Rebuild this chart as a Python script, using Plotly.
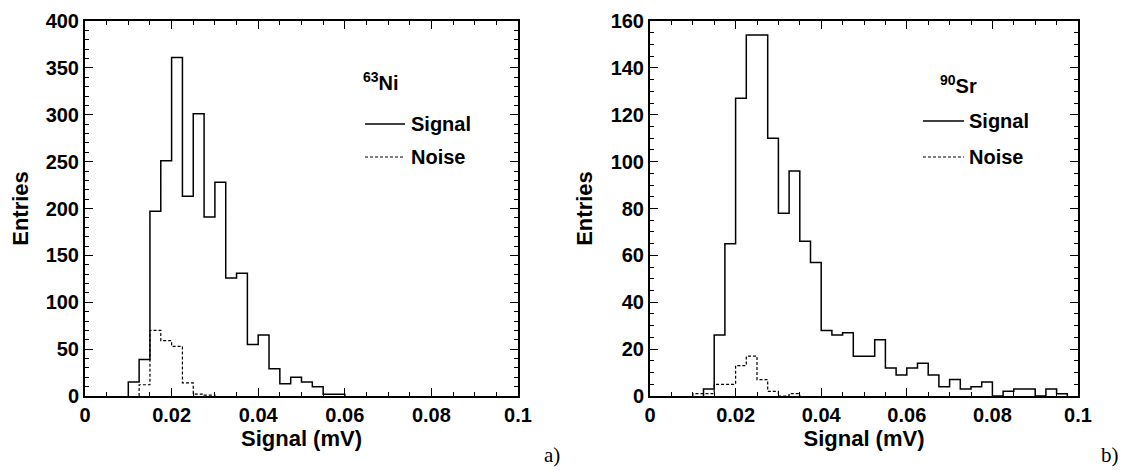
import plotly.graph_objects as go

# ---------------- data ----------------
bin_width = 0.0025

# panel a) 63Ni
ni_signal_start = 0.01
ni_signal = [15, 39, 197, 251, 361, 213, 301, 191, 228, 126, 131, 55, 65, 29, 13, 20, 15, 10, 2, 2]
ni_noise_start = 0.0125
ni_noise = [12, 70, 59, 53, 14, 2, 1]

# panel b) 90Sr
sr_signal_start = 0.0125
sr_signal = [3, 26, 65, 127, 154, 154, 110, 78, 96, 66, 57, 28, 26, 27, 17, 17, 24, 12, 9,
             12, 14, 9, 4, 7, 3, 4, 6, 0, 2, 3, 3, 0, 3, 1]
sr_noise_start = 0.01
sr_noise = [1, 1, 5, 5, 13, 17, 7, 2, 0, 1]

x_ticks = [0, 0.02, 0.04, 0.06, 0.08, 0.1]
x_tick_text = ["0", "0.02", "0.04", "0.06", "0.08", "0.1"]

W, H = 1126, 470
ML, MR, MT, MB = 77, 56, 13, 82          # outer plot area in pixels
IW, IH = W - ML - MR, H - MT - MB
FONT = "Liberation Sans"


def step_xy(start, counts):
    edges = [start + i * bin_width for i in range(len(counts) + 1)]
    xs = [edges[0]] + edges[:-1] + [edges[-1]]
    ys = [0] + list(counts) + [0]
    return xs, ys


def px(x):
    return (x - ML) / IW


def py(y):
    return (H - MB - y) / IH


fig = go.Figure()

for xa, ya, s_start, s_vals, n_start, n_vals in [
    ("x", "y", ni_signal_start, ni_signal, ni_noise_start, ni_noise),
    ("x2", "y2", sr_signal_start, sr_signal, sr_noise_start, sr_noise),
]:
    xs, ys = step_xy(n_start, n_vals)
    fig.add_trace(go.Scatter(x=xs, y=ys, mode="lines", line_shape="hv",
                             line=dict(color="black", width=1.2, dash="3px,2px"),
                             xaxis=xa, yaxis=ya, showlegend=False, hoverinfo="skip"))
    xs, ys = step_xy(s_start, s_vals)
    fig.add_trace(go.Scatter(x=xs, y=ys, mode="lines", line_shape="hv",
                             line=dict(color="black", width=1.5),
                             xaxis=xa, yaxis=ya, showlegend=False, hoverinfo="skip"))

tick_font = dict(family=FONT, size=20, color="black", weight="bold")
title_font = dict(family=FONT, size=22, color="black", weight="bold")

common_axis = dict(showline=True, linewidth=2, linecolor="black", mirror="allticks",
                   ticks="inside", ticklen=8, tickwidth=1, tickcolor="black",
                   showgrid=False, zeroline=False, tickfont=tick_font, automargin=False)

xdef = dict(common_axis, range=[0, 0.1], tickvals=x_ticks, ticktext=x_tick_text,
            minor=dict(dtick=0.005, ticks="inside", ticklen=4, tickcolor="black", showgrid=False),
            title=dict(text="Signal (mV)", font=title_font, standoff=6))

fig.update_layout(
    template="none",
    width=W, height=H,
    margin=dict(l=ML, r=MR, t=MT, b=MB, pad=0),
    paper_bgcolor="white", plot_bgcolor="white",
    xaxis=dict(xdef, domain=[px(77), px(510)], anchor="y"),
    xaxis2=dict(xdef, domain=[px(642), px(1070)], anchor="y2"),
    yaxis=dict(common_axis, domain=[0, 1], range=[0, 400], dtick=50, anchor="x",
               minor=dict(dtick=10, ticks="inside", ticklen=4, tickcolor="black", showgrid=False),
               title=dict(text="Entries", font=title_font, standoff=12)),
    yaxis2=dict(common_axis, domain=[0, 1], range=[0, 160], dtick=20, anchor="x2",
                minor=dict(dtick=5, ticks="inside", ticklen=4, tickcolor="black", showgrid=False),
                title=dict(text="Entries", font=title_font, standoff=12)),
)

# legends (drawn as text + line samples)
leg_font = dict(family=FONT, size=20, color="black", weight="bold")
legends = [
    # (isotope text, iso_x, iso_y, line_x0, line_x1, sig_y, noise_y, text_x)
    ("<sup>63</sup>Ni", 353, 74, 357, 397, 116, 149, 401),
    ("<sup>90</sup>Sr", 930, 76, 915, 956, 113, 149, 959),
]
for iso, ix, iy, lx0, lx1, sy, ny, tx in legends:
    fig.add_annotation(x=px(ix), y=py(iy), xref="paper", yref="paper", text=iso,
                       showarrow=False, xanchor="left", yanchor="middle", font=leg_font)
    fig.add_shape(type="line", xref="paper", yref="paper", x0=px(lx0), x1=px(lx1),
                  y0=py(sy), y1=py(sy), line=dict(color="black", width=1.5))
    fig.add_shape(type="line", xref="paper", yref="paper", x0=px(lx0), x1=px(lx1),
                  y0=py(ny), y1=py(ny), line=dict(color="black", width=1.2, dash="3px,2px"))
    fig.add_annotation(x=px(tx), y=py(sy), xref="paper", yref="paper", text="Signal",
                       showarrow=False, xanchor="left", yanchor="middle", font=leg_font)
    fig.add_annotation(x=px(tx), y=py(ny), xref="paper", yref="paper", text="Noise",
                       showarrow=False, xanchor="left", yanchor="middle", font=leg_font)

# panel labels
for lab, lx in [("a)", 544), ("b)", 1102)]:
    fig.add_annotation(x=px(lx), y=py(447), xref="paper", yref="paper", text=lab,
                       showarrow=False, xanchor="center", yanchor="middle",
                       font=dict(family="Liberation Serif", size=21, color="black"))

fig.write_html("out.html")
